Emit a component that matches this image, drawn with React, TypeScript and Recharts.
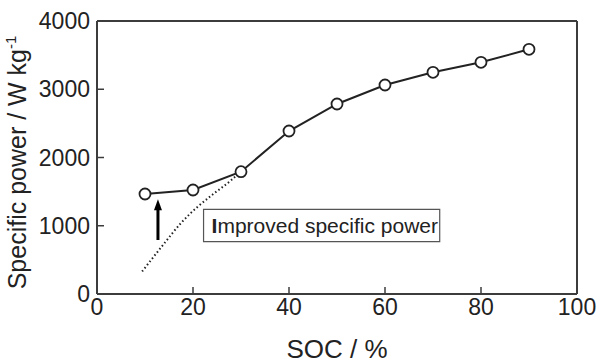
import React from 'react';
import {
  LineChart,
  Line,
  XAxis,
  YAxis,
  ReferenceLine,
  ReferenceArea,
  ReferenceDot,
} from 'recharts';

const socValues = [10, 20, 30, 40, 50, 60, 70, 80, 90];
const powerValues = [1465, 1524, 1792, 2388, 2784, 3062, 3248, 3395, 3585];

const dottedSoc = [9.4, 14, 17.5, 21, 24.5, 28, 30];
const dottedPower = [330, 740, 1040, 1280, 1480, 1670, 1800];

const xTicks = [0, 20, 40, 60, 80, 100];
const yTicks = [0, 1000, 2000, 3000, 4000];

const annotationText = 'Improved specific power';
const arrowSoc = 12.7;
const arrowFrom = 791;
const arrowTo = 1388;
const boxSoc = [22.2, 71.4];
const boxPower = [766, 1241];

const mainData = socValues.map((s, i) => ({ soc: s, power: powerValues[i] }));
const dottedData = dottedSoc.map((s, i) => ({ soc: s, power: dottedPower[i] }));

const FONT = '"Liberation Sans", Arial, Helvetica, sans-serif';
const INK = '#222';
const AXIS = '#3c3c3c';

const YLabel = (props: any) => {
  const vb = props.viewBox || {};
  const cy = vb.y + vb.height / 2 + 5;
  const cx = 26;
  return (
    <text
      x={cx}
      y={cy}
      transform={`rotate(-90, ${cx}, ${cy})`}
      textAnchor="middle"
      fontSize={25}
      fontFamily={FONT}
      fill={INK}
    >
      Specific power / W kg
      <tspan fontSize={15} dy={-10}>-1</tspan>
    </text>
  );
};

const BoxLabel = (props: any) => {
  const vb = props.viewBox || {};
  return (
    <text x={vb.x + 8} y={vb.y + 24} fontSize={21} fontFamily={FONT} fill={INK}>
      <tspan fontWeight="bold">{annotationText.charAt(0)}</tspan>
      {annotationText.slice(1)}
    </text>
  );
};

const ArrowHead = (props: any) => {
  const { cx, cy } = props;
  if (cx == null || cy == null) return null;
  return <path d={`M${cx},${cy} L${cx - 4},${cy + 11} L${cx + 4},${cy + 11} Z`} fill="#000" />;
};

export default function App() {
  return (
    <div style={{ position: 'absolute', left: 0, top: 0, background: '#fff' }}>
      <LineChart
        width={598}
        height={363}
        margin={{ top: 21, right: 21, bottom: 0, left: 0 }}
      >
        <XAxis
          dataKey="soc"
          type="number"
          domain={[0, 100]}
          ticks={xTicks}
          allowDataOverflow
          height={69}
          stroke={AXIS}
          strokeWidth={2}
          tickSize={-7}
          tickMargin={12}
          tick={{ fontSize: 23, fontFamily: FONT, fill: INK }}
          tickLine={{ stroke: AXIS, strokeWidth: 1.5 }}
          label={{
            value: 'SOC / %',
            position: 'insideBottom',
            offset: 5,
            fontSize: 26,
            fontFamily: FONT,
            fill: INK,
          }}
        />
        <YAxis
          dataKey="power"
          type="number"
          domain={[0, 4000]}
          ticks={yTicks}
          allowDataOverflow
          width={97}
          stroke={AXIS}
          strokeWidth={2}
          tickSize={-7}
          tickMargin={14}
          tick={{ fontSize: 23, fontFamily: FONT, fill: INK }}
          tickLine={{ stroke: AXIS, strokeWidth: 1.5 }}
          label={<YLabel />}
        />
        <ReferenceLine y={4000} stroke={AXIS} strokeWidth={2} ifOverflow="visible" />
        <ReferenceLine x={100} stroke={AXIS} strokeWidth={2} ifOverflow="visible" />
        <ReferenceArea
          x1={boxSoc[0]}
          x2={boxSoc[1]}
          y1={boxPower[0]}
          y2={boxPower[1]}
          fill="#fff"
          fillOpacity={1}
          stroke="#555"
          strokeWidth={1.2}
          label={<BoxLabel />}
        />
        <ReferenceLine
          segment={[
            { x: arrowSoc, y: arrowFrom },
            { x: arrowSoc, y: arrowTo - 150 },
          ]}
          stroke="#000"
          strokeWidth={3}
        />
        <ReferenceDot x={arrowSoc} y={arrowTo} r={4} shape={<ArrowHead />} />
        <Line
          data={mainData}
          dataKey="power"
          stroke={INK}
          strokeWidth={2}
          dot={{ r: 5.5, fill: '#fff', stroke: INK, strokeWidth: 1.8 }}
          isAnimationActive={false}
        />
        <Line
          data={dottedData}
          dataKey="power"
          type="monotone"
          stroke={INK}
          strokeWidth={2}
          strokeDasharray="1.5 2.5"
          dot={false}
          activeDot={false}
          isAnimationActive={false}
        />
      </LineChart>
    </div>
  );
}
